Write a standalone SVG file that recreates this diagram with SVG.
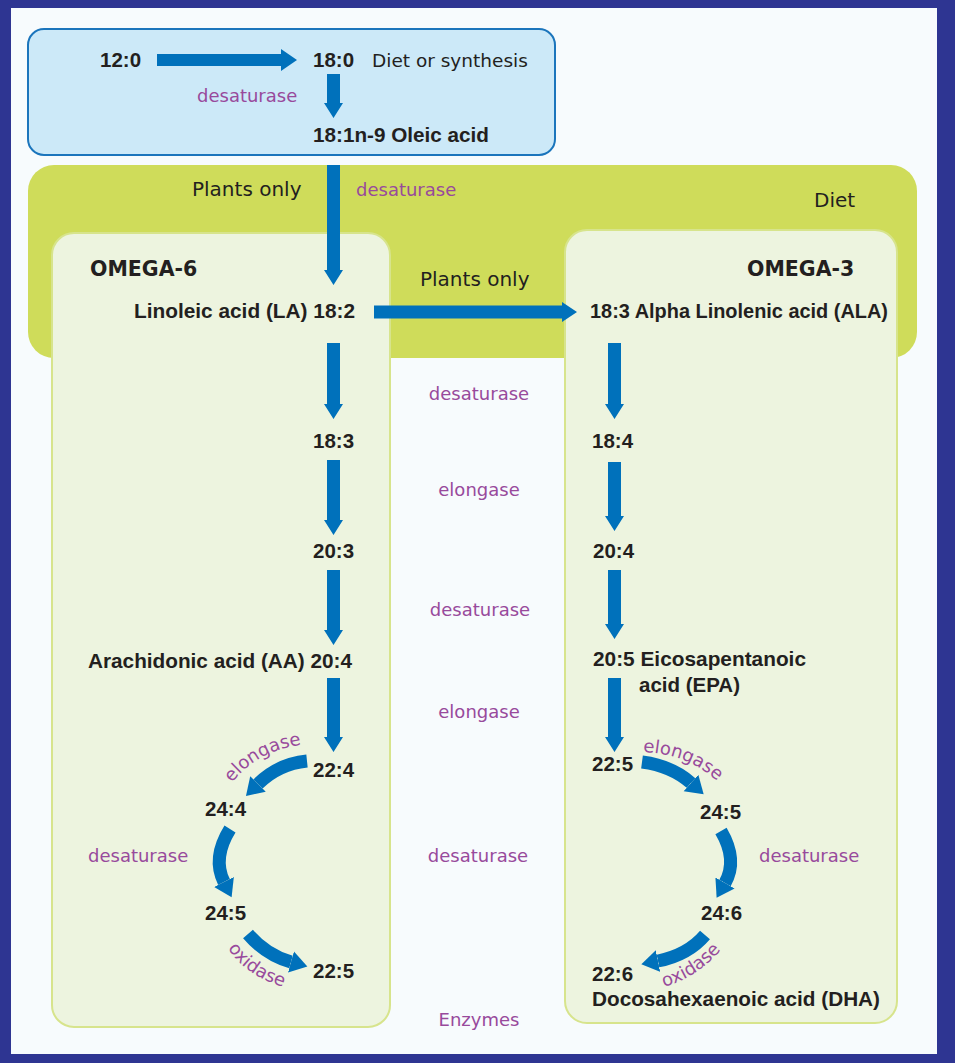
<svg xmlns="http://www.w3.org/2000/svg" width="955" height="1063" viewBox="0 0 955 1063">
<style>
.lbl{font-family:"Liberation Sans",Arial,sans-serif;font-weight:bold;font-size:20.5px;fill:#231f20}
.reg{font-family:"DejaVu Sans",Verdana,sans-serif;font-size:20px;fill:#231f20}
.enz{font-family:"DejaVu Sans",Verdana,sans-serif;font-size:18px;fill:#984a9c}
.hd{font-family:"DejaVu Sans",Verdana,sans-serif;font-weight:bold;font-size:20.5px;fill:#231f20}
.arr{fill:#0071bb}
.carc{fill:none;stroke:#0071bb;stroke-width:13}
.omega{fill:#edf4df;stroke:#d7e48c;stroke-width:2}
.mid{text-anchor:middle}
</style>
<defs>
<marker id="head" markerUnits="userSpaceOnUse" markerWidth="20" markerHeight="24" refX="0" refY="12" orient="auto" viewBox="0 0 20 24">
<path d="M0,1 L17,12 L0,23 z" fill="#0071bb"/>
</marker>
<path id="tp1" d="M232,783 Q258,748 314,743"/>
<path id="tp2" d="M228,948 Q246,978 294,990"/>
<path id="tp3" d="M643,752 Q694,754 726,790"/>
<path id="tp4" d="M664,987 Q702,976 727,942"/>
</defs>
<rect x="0" y="0" width="955" height="1063" fill="#2e3592"/>
<rect x="11" y="8" width="926" height="1046" fill="#f7fbfd"/>

<g id="synthesis">
<rect x="28" y="29" width="527" height="126" rx="16" fill="#cce9f8" stroke="#1b75bc" stroke-width="2"/>
<text class="lbl" x="100" y="67">12:0</text>
<text class="lbl" x="313" y="67">18:0</text>
<text class="reg" style="font-size:18.5px" x="372" y="67">Diet or synthesis</text>
<text class="enz" x="197" y="102">desaturase</text>
<text class="lbl" x="313" y="142" textLength="176" lengthAdjust="spacingAndGlyphs">18:1n-9 Oleic acid</text>
</g>

<g id="diet">
<rect x="28" y="165" width="889" height="193" rx="26" fill="#cfdc5a"/>
<text class="reg" x="192" y="196">Plants only</text>
<text class="enz" x="356" y="196">desaturase</text>
<text class="reg" x="814" y="207">Diet</text>
</g>

<g id="omega6">
<rect class="omega" x="52" y="233" width="338" height="794" rx="22"/>
<text class="hd" x="90" y="276">OMEGA-6</text>
<text class="lbl" x="134" y="318" textLength="221" lengthAdjust="spacingAndGlyphs">Linoleic acid (LA) 18:2</text>
<text class="lbl" x="313" y="448">18:3</text>
<text class="lbl" x="313" y="558">20:3</text>
<text class="lbl" x="88" y="668" textLength="264" lengthAdjust="spacingAndGlyphs">Arachidonic acid (AA) 20:4</text>
<text class="lbl" x="313" y="777">22:4</text>
<text class="lbl" x="205" y="816">24:4</text>
<text class="enz" x="88" y="862">desaturase</text>
<text class="lbl" x="205" y="920">24:5</text>
<text class="lbl" x="313" y="978">22:5</text>
</g>

<g id="omega3">
<rect class="omega" x="565" y="230" width="332" height="793" rx="22"/>
<text class="hd" x="747" y="276">OMEGA-3</text>
<text class="lbl" x="590" y="318" textLength="298" lengthAdjust="spacingAndGlyphs">18:3 Alpha Linolenic acid (ALA)</text>
<text class="lbl" x="592" y="448">18:4</text>
<text class="lbl" x="593" y="558">20:4</text>
<text class="lbl" x="593" y="666" textLength="213" lengthAdjust="spacingAndGlyphs">20:5 Eicosapentanoic</text>
<text class="lbl" x="639" y="692">acid (EPA)</text>
<text class="lbl" x="592" y="771">22:5</text>
<text class="lbl" x="700" y="819">24:5</text>
<text class="enz" x="759" y="862">desaturase</text>
<text class="lbl" x="701" y="920">24:6</text>
<text class="lbl" x="592" y="981">22:6</text>
<text class="lbl" x="592" y="1006" textLength="288" lengthAdjust="spacingAndGlyphs">Docosahexaenoic acid (DHA)</text>
</g>

<g id="enzymes">
<text class="reg" x="420" y="286">Plants only</text>
<text class="enz mid" x="479" y="400">desaturase</text>
<text class="enz mid" x="479" y="496">elongase</text>
<text class="enz mid" x="480" y="616">desaturase</text>
<text class="enz mid" x="479" y="718">elongase</text>
<text class="enz mid" x="478" y="862">desaturase</text>
<text class="enz mid" x="479" y="1026">Enzymes</text>
</g>

<g id="connectors">
<polygon class="arr" points="157,54 281,54 281,49 297,60 281,71 281,66 157,66"/>
<polygon class="arr" points="327,74 340,74 340,103 343,103 333.5,118 324,103 327,103"/>
<polygon class="arr" points="327,165 340,165 340,270 343,270 333.5,285 324,270 327,270"/>
<polygon class="arr" points="327,343 340,343 340,404 343,404 333.5,419 324,404 327,404"/>
<polygon class="arr" points="327,460 340,460 340,520 343,520 333.5,535 324,520 327,520"/>
<polygon class="arr" points="327,570 340,570 340,630 343,630 333.5,645 324,630 327,630"/>
<polygon class="arr" points="327,678 340,678 340,737 343,737 333.5,752 324,737 327,737"/>
<polygon class="arr" points="374,305.5 562,305.5 562,302 577,312 562,322 562,318.5 374,318.5"/>
<polygon class="arr" points="608,343 621,343 621,404 624,404 614.5,419 605,404 608,404"/>
<polygon class="arr" points="608,462 621,462 621,516 624,516 614.5,531 605,516 608,516"/>
<polygon class="arr" points="608,570 621,570 621,624 624,624 614.5,639 605,624 608,624"/>
<polygon class="arr" points="608,678 621,678 621,737 624,737 614.5,752 605,737 608,737"/>
<path class="carc" d="M307,761 Q278,764 258,784" marker-end="url(#head)"/>
<path class="carc" d="M230,829 Q212,858 224,882" marker-end="url(#head)"/>
<path class="carc" d="M248,934 Q266,955 291,962" marker-end="url(#head)"/>
<path class="carc" d="M642,762 Q672,766 691,783" marker-end="url(#head)"/>
<path class="carc" d="M721,831 Q738,860 725,883" marker-end="url(#head)"/>
<path class="carc" d="M705,935 Q688,955 658,961" marker-end="url(#head)"/>
<text class="enz"><textPath href="#tp1">elongase</textPath></text>
<text class="enz"><textPath href="#tp2">oxidase</textPath></text>
<text class="enz"><textPath href="#tp3">elongase</textPath></text>
<text class="enz"><textPath href="#tp4">oxidase</textPath></text>
</g>
</svg>
